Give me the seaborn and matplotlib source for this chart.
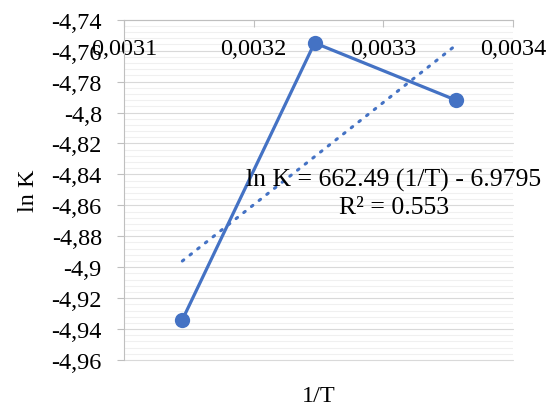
import matplotlib
matplotlib.use("Agg")
import matplotlib.pyplot as plt
import seaborn as sns
from matplotlib.ticker import FuncFormatter, AutoMinorLocator, FixedLocator

# datos (1/T frente a ln K)
inv_t = [0.003145, 0.003247, 0.003356]
ln_k = [-4.934, -4.755, -4.792]

x_ticks = [0.0031, 0.0032, 0.0033, 0.0034]
y_ticks = [-4.96, -4.94, -4.92, -4.90, -4.88, -4.86, -4.84, -4.82, -4.80, -4.78, -4.76, -4.74]
ecuacion = "ln K = 662.49 (1/T) - 6.9795\nR² = 0.553"

azul = "#4472C4"
gris = "#bfbfbf"

sns.set_theme(style="white")
plt.rcParams["font.family"] = ["Liberation Serif", "DejaVu Serif"]

fig = plt.figure(figsize=(5.58, 4.14), dpi=100)
ax = fig.add_axes([124 / 558, 1 - 361 / 414, (513 - 124) / 558, (361 - 20.7) / 414])

# lineas de cuadricula horizontales, mayores y menores
ax.set_axisbelow(True)
ax.yaxis.set_major_locator(FixedLocator(y_ticks))
ax.yaxis.set_minor_locator(AutoMinorLocator(5))
ax.grid(which="major", axis="y", color="#d9d9d9", lw=0.8, clip_on=False)
ax.grid(which="minor", axis="y", color="#f0f0f0", lw=0.8)
ax.grid(which="major", axis="x", visible=False)
# el eje x se dibuja despues para que la cuadricula no tape sus etiquetas
ax.xaxis.set_zorder(0.6)

# serie principal
sns.lineplot(x=inv_t, y=ln_k, ax=ax, color=azul, lw=2.3, marker="o",
             markersize=11, markeredgewidth=0)

# linea de tendencia punteada
sns.regplot(x=inv_t, y=ln_k, ax=ax, scatter=False, ci=None, color=azul,
            line_kws=dict(lw=2.2, linestyle=(0, (0.6, 2.6)), dash_capstyle="round"))

ax.set_xlim(0.0031, 0.0034)
ax.set_ylim(-4.96, -4.74)
ax.set_xticks(x_ticks)

fmt = lambda v, p: f"{v:.4f}".rstrip("0").rstrip(".").replace(".", ",")
ax.xaxis.set_major_formatter(FuncFormatter(fmt))
ax.yaxis.set_major_formatter(FuncFormatter(fmt))

ax.xaxis.set_ticks_position("top")
ax.tick_params(axis="x", which="major", direction="in", length=5, width=0.8, color=gris,
               labelsize=17.5, pad=-28.5, labeltop=True, labelbottom=False, labelcolor="black")
ax.tick_params(axis="y", which="major", direction="out", length=5, width=0.8, color=gris,
               labelsize=17.5, pad=11, labelcolor="black", left=True)
ax.tick_params(which="minor", length=0)

for lado in ["bottom", "right"]:
    ax.spines[lado].set_visible(False)
for lado in ["left", "top"]:
    ax.spines[lado].set_color(gris)
    ax.spines[lado].set_linewidth(0.8)

ax.xaxis.set_label_position("bottom")
ax.set_xlabel("1/T", fontsize=17.5, labelpad=18, color="black")
ax.set_ylabel("ln K", fontsize=17.5, labelpad=9, color="black")

ax.text(0.694, 0.49, ecuacion, transform=ax.transAxes, ha="center", va="center",
        multialignment="center", fontsize=18.5, color="black", linespacing=1.3)

fig.savefig("out.png", dpi=100)
plt.close(fig)
